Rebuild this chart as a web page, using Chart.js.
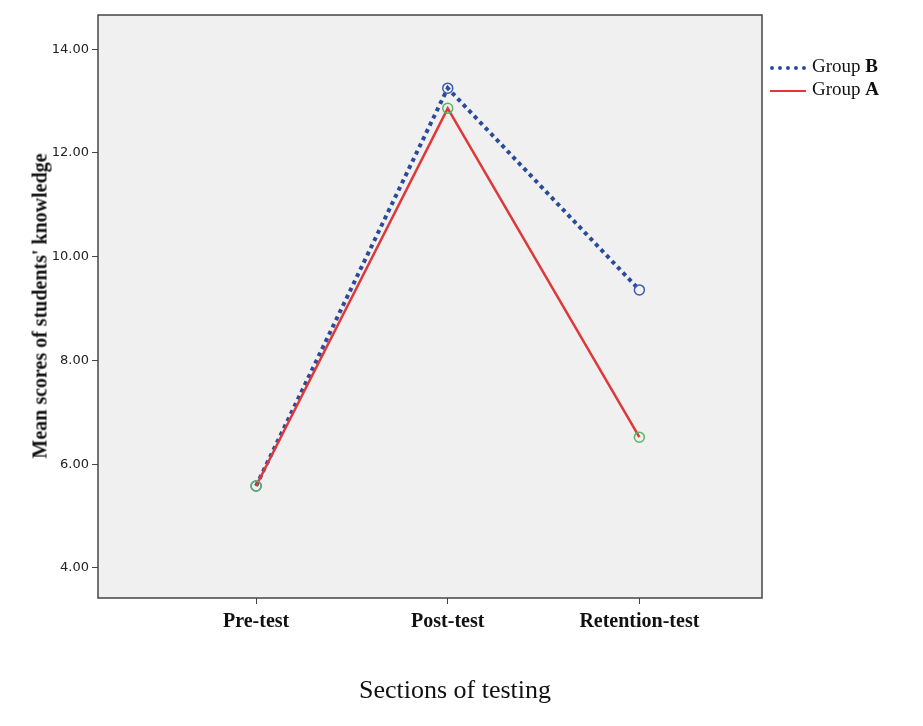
<!DOCTYPE html>
<html><head><meta charset="utf-8">
<script src="https://cdn.jsdelivr.net/npm/chart.js@4"></script>
<style>
body{margin:0;background:#fff;width:923px;height:726px;overflow:hidden;position:relative}
#wrap{position:absolute;left:0;top:0;width:923px;height:726px}
.t{position:absolute;font-family:"Liberation Serif","DejaVu Serif",serif;color:#111}
</style></head><body>
<div id="wrap"><canvas id="c"></canvas></div>
<div class="t" style="left:40px;top:306px;transform:translate(-50%,-50%) rotate(-90deg);font-weight:bold;font-size:20px;white-space:nowrap">Mean scores of students' knowledge</div>
<div class="t" style="left:455px;top:690px;transform:translate(-50%,-50%);font-size:26px;white-space:nowrap">Sections of testing</div>
<div class="t" style="left:770px;top:54px;font-size:19px;line-height:23px">
<div><span style="display:inline-block;width:36px;border-top:4px dotted #2a4a9a;vertical-align:middle;margin-right:6px"></span>Group <b>B</b></div>
<div><span style="display:inline-block;width:36px;border-top:2.5px solid #e0383a;vertical-align:middle;margin-right:6px"></span>Group <b>A</b></div>
</div>
<script>
const categories=["Pre-test","Post-test","Retention-test"];
const groupB=[5.58,13.25,9.36];
const groupA=[5.58,12.86,6.52];
const yTicks=[4,6,8,10,12,14];
const bg={id:'bg',beforeDraw(ch){const a=ch.chartArea,x=ch.ctx;x.save();x.fillStyle='#f0f0f0';x.fillRect(a.left,a.top,a.width,a.height);x.restore();},
afterDraw(ch){const a=ch.chartArea,x=ch.ctx;x.save();x.strokeStyle='#444';x.lineWidth=1.5;x.strokeRect(a.left,a.top,a.width,a.height);x.restore();}};
new Chart(document.getElementById('c'),{type:'line',
data:{datasets:[
{label:'Group A',data:groupA.map((v,i)=>({x:i,y:v})),borderColor:'#e0383a',borderWidth:2.5,pointRadius:5,pointBorderColor:'#55b860',pointBackgroundColor:'rgba(0,0,0,0)',pointBorderWidth:1.5},
{label:'Group B',data:groupB.map((v,i)=>({x:i,y:v})),borderColor:'#2a4a9a',borderWidth:4,borderDash:[4,4],pointStyle:'circle',pointRadius:5,pointBorderColor:'#3a5cb0',pointBackgroundColor:'rgba(0,0,0,0)',pointBorderWidth:1.5}
]},
options:{responsive:true,maintainAspectRatio:false,animation:false,
layout:{padding:{top:15,right:161,left:0,bottom:0}},
plugins:{legend:{display:false},tooltip:{enabled:false}},
scales:{
x:{type:'linear',min:-0.825,max:2.64,afterBuildTicks(s){s.ticks=[0,1,2].map(v=>({value:v}));},
afterFit(s){s.height=128;},
grid:{display:true,drawOnChartArea:false,drawTicks:true,tickLength:6,color:'#444'},border:{display:false},
ticks:{callback:v=>categories[v],color:'#111',font:{family:'Liberation Serif',size:20,weight:'bold'},padding:6}},
y:{min:3.42,max:14.66,afterBuildTicks(s){s.ticks=yTicks.map(v=>({value:v}));},
afterFit(s){s.width=98;},
grid:{display:true,drawOnChartArea:false,drawTicks:true,tickLength:6,color:'#444'},border:{display:false},
ticks:{callback:v=>v.toFixed(2),color:'#222',font:{family:'DejaVu Sans',size:13},padding:3}}
}},plugins:[bg]});
</script></body></html>
